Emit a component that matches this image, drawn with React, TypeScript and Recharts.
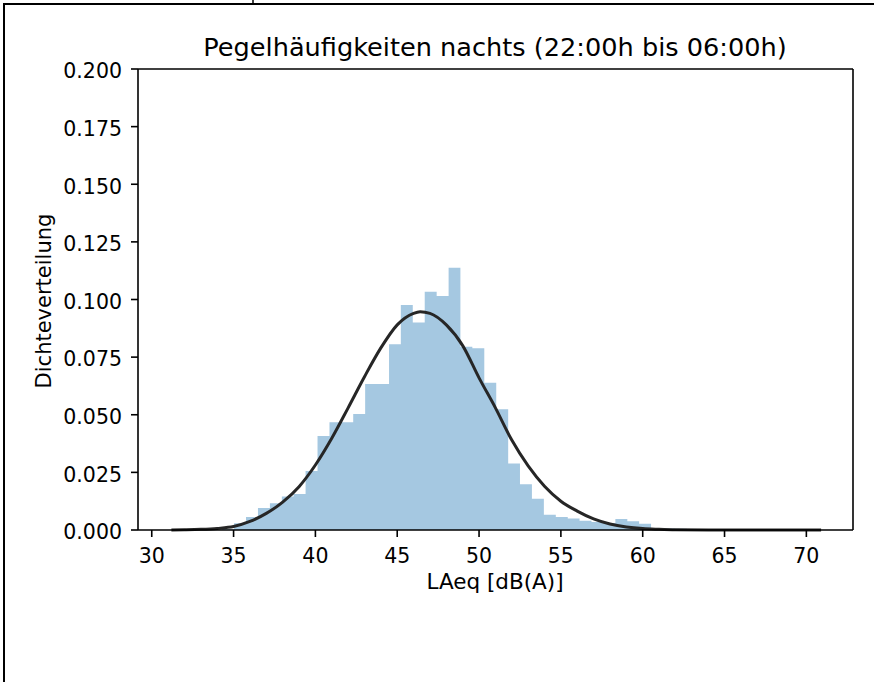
import React from "react";
import { ComposedChart, Area, Line, XAxis, YAxis, ReferenceLine } from "recharts";

// Histogram bin left edges (last entry is the right edge of the final bin)
const binEdges = [
  32.85, 33.58, 34.31, 35.03, 35.76, 36.49, 37.22, 37.95, 38.67, 39.4,
  40.13, 40.86, 41.58, 42.31, 43.04, 43.77, 44.5, 45.22, 45.95, 46.68,
  47.41, 48.14, 48.86, 49.59, 50.32, 51.05, 51.78, 52.5, 53.23, 53.96,
  54.69, 55.42, 56.14, 56.87, 57.6, 58.33, 59.06, 59.78, 60.51, 61.24,
  61.97, 62.7, 63.42, 64.15, 64.88, 65.61, 66.34, 67.06, 67.79, 68.52, 69.25,
];

// Density per bin
const density = [
  0.0001, 0.0, 0.0003, 0.0029, 0.0056, 0.0095, 0.0116, 0.0145, 0.0156, 0.0256,
  0.0408, 0.0467, 0.0467, 0.0503, 0.0633, 0.0633, 0.0806, 0.0976, 0.09, 0.1034,
  0.1015, 0.1138, 0.0795, 0.0788, 0.0639, 0.0524, 0.0289, 0.0198, 0.0136, 0.0066,
  0.0056, 0.005, 0.004, 0.0035, 0.003, 0.0048, 0.0038, 0.0027, 0.0009, 0.0007,
  0.0005, 0.0004, 0.0002, 0.0001, 0.0001, 0.0, 0.0, 0.0, 0.0, 0.0001,
];

// Fitted density curve
const curveX = [
  31.2, 32, 33, 34, 35, 36, 37, 38, 39, 40, 41, 42, 43, 44, 45, 46, 46.4, 47, 48,
  49, 50, 51, 52, 53, 54, 55, 56, 57, 58, 59, 60, 61, 62, 64, 66, 68, 70.9,
];
const curveY = [
  0.0, 0.0001, 0.0003, 0.0007, 0.0015, 0.0037, 0.0072, 0.0121, 0.0188, 0.0282,
  0.0398, 0.053, 0.0665, 0.079, 0.089, 0.094, 0.0947, 0.094, 0.089, 0.08, 0.066,
  0.053, 0.039, 0.0278, 0.019, 0.0125, 0.0082, 0.0048, 0.0026, 0.0013, 0.0006,
  0.0003, 0.0001, 0.0, 0.0, 0.0, 0.0,
];

const xTicks = [30, 35, 40, 45, 50, 55, 60, 65, 70];
const yTicks = [0, 0.025, 0.05, 0.075, 0.1, 0.125, 0.15, 0.175, 0.2];

const title = "Pegelhäufigkeiten nachts (22:00h bis 06:00h)";
const xLabel = "LAeq [dB(A)]";
const yLabel = "Dichteverteilung";

const X_MIN = 29.16;
const X_MAX = 72.85;

const histData = binEdges.map((e, i) => ({ x: e, h: i < density.length ? density[i] : 0 }));
const curveData = curveX.map((x, i) => ({ x, y: curveY[i] }));

const FONT = "DejaVu Sans";

export default function App() {
  return (
    <div style={{ position: "absolute", left: 0, top: 0, width: 874, height: 682, background: "#fff" }}>
      <ComposedChart
        width={874}
        height={682}
        margin={{ top: 69, right: 21, bottom: 112, left: 78 }}
      >
        <XAxis
          type="number"
          dataKey="x"
          domain={[X_MIN, X_MAX]}
          ticks={xTicks}
          interval={0}
          allowDataOverflow
          height={40}
          tickSize={7}
          tickMargin={11}
          axisLine={{ stroke: "#000", strokeWidth: 1.6 }}
          tickLine={{ stroke: "#000", strokeWidth: 1.6 }}
          tick={{ fill: "#000", fontSize: 20.5, fontFamily: FONT }}
        />
        <YAxis
          type="number"
          domain={[0, 0.2]}
          ticks={yTicks}
          interval={0}
          width={60}
          tickSize={7}
          tickMargin={9}
          tickFormatter={(v: number) => v.toFixed(3)}
          axisLine={{ stroke: "#000", strokeWidth: 1.6 }}
          tickLine={{ stroke: "#000", strokeWidth: 1.6 }}
          tick={{ fill: "#000", fontSize: 20.5, fontFamily: FONT, dy: 2 }}
        />
        <Area
          data={histData}
          dataKey="h"
          type="stepAfter"
          fill="#a5c8e1"
          fillOpacity={1}
          stroke="none"
          isAnimationActive={false}
        />
        <Line
          data={curveData}
          dataKey="y"
          type="monotone"
          stroke="#262626"
          strokeWidth={3}
          dot={false}
          isAnimationActive={false}
        />
        <ReferenceLine y={0.2} stroke="#000" strokeWidth={1.6} />
        <ReferenceLine x={X_MAX} stroke="#000" strokeWidth={1.6} />
      </ComposedChart>
      <svg
        width={874}
        height={682}
        style={{ position: "absolute", left: 0, top: 0, pointerEvents: "none" }}
      >
        <line x1={4} y1={4} x2={874} y2={4} stroke="#000" strokeWidth={2} />
        <line x1={4} y1={3} x2={4} y2={682} stroke="#000" strokeWidth={2} />
        <line x1={253} y1={0} x2={253} y2={4} stroke="#000" strokeWidth={1.5} />
        <text x={495} y={56} textAnchor="middle" fontSize={25.6} fontFamily={FONT} fill="#000">
          {title}
        </text>
        <text x={495} y={589} textAnchor="middle" fontSize={21.5} fontFamily={FONT} fill="#000">
          {xLabel}
        </text>
        <text
          transform="translate(51,301) rotate(-90)"
          textAnchor="middle"
          fontSize={21}
          fontFamily={FONT}
          fill="#000"
        >
          {yLabel}
        </text>
      </svg>
    </div>
  );
}
